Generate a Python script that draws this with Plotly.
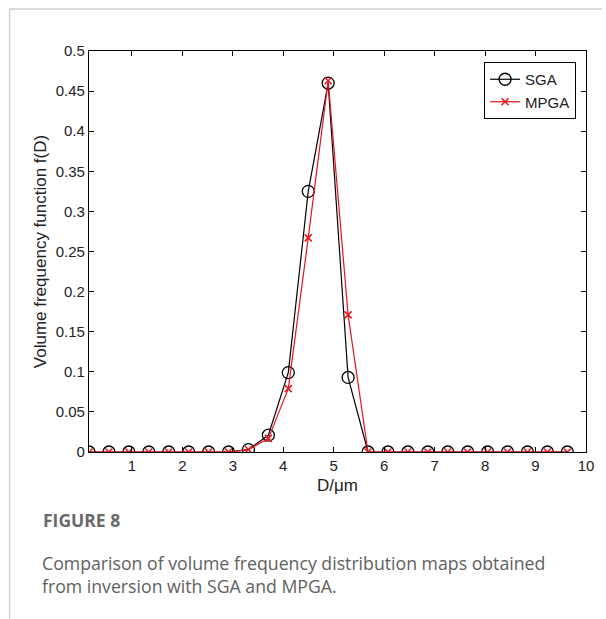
import plotly.graph_objects as go

# Particle diameter grid (µm)
diameters = [0.15, 0.545, 0.94, 1.335, 1.73, 2.125, 2.52, 2.915, 3.31, 3.705,
             4.10, 4.495, 4.89, 5.285, 5.68, 6.075, 6.47, 6.865, 7.26, 7.655,
             8.05, 8.445, 8.84, 9.235, 9.63]

# Volume frequency function f(D) from each inversion method
sga = [0, 0, 0, 0, 0, 0, 0, 0, 0.003, 0.021, 0.099, 0.325, 0.460, 0.093,
       0, 0, 0, 0, 0, 0, 0, 0, 0, 0, 0]
mpga = [0, 0, 0, 0, 0, 0, 0, 0, 0.003, 0.017, 0.079, 0.267, 0.463, 0.171,
        0, 0, 0, 0, 0, 0, 0, 0, 0, 0, 0]

x_ticks = [1, 2, 3, 4, 5, 6, 7, 8, 9, 10]
y_ticks = [0, 0.05, 0.1, 0.15, 0.2, 0.25, 0.3, 0.35, 0.4, 0.45, 0.5]
y_tick_text = ["0", "0.05", "0.1", "0.15", "0.2", "0.25", "0.3", "0.35", "0.4", "0.45", "0.5"]

W, H = 606, 619
L, R, T, B = 89, 590, 51, 452  # plot area in pixels
CHART_FONT = "Liberation Sans"


def px(x):
    return (x - L) / (R - L)


def py(y):
    return (B - y) / (B - T)


fig = go.Figure()
fig.add_trace(go.Scatter(
    x=diameters, y=sga, name="SGA", mode="lines+markers",
    line=dict(color="black", width=1.2),
    marker=dict(symbol="circle-open", size=12, color="black", line=dict(width=1.3)),
))
fig.add_trace(go.Scatter(
    x=diameters, y=mpga, name="MPGA", mode="lines+markers",
    line=dict(color="#e8141c", width=1.2),
    marker=dict(symbol="x-thin-open", size=7, color="#e8141c", line=dict(width=1.5, color="#e8141c")),
))

axis_common = dict(
    showline=True, linecolor="black", linewidth=1.2, mirror="ticks",
    ticks="inside", ticklen=5, tickwidth=1, tickcolor="black",
    showgrid=False, zeroline=False,
    tickfont=dict(family=CHART_FONT, size=15, color="#222"),
)

fig.update_xaxes(
    range=[0.15, 10], tickvals=x_ticks,
    title=dict(text="D/μm", font=dict(family=CHART_FONT, size=17, color="#222"), standoff=6),
    **axis_common,
)
fig.update_yaxes(
    range=[0, 0.5], tickvals=y_ticks, ticktext=y_tick_text,
    title=dict(text="Volume frequency function f(D)", font=dict(family=CHART_FONT, size=17, color="#222"), standoff=4),
    **axis_common,
)

# Card frame around the figure and its caption
frame = dict(type="line", xref="paper", yref="paper", line=dict(color="#cfcfcf", width=1.5))
shapes = [
    dict(frame, x0=px(9), y0=py(H), x1=px(9), y1=py(9)),
    dict(frame, x0=px(9), y0=py(9), x1=px(W), y1=py(9)),
]

cap_font = dict(family="Open Sans", size=17.7, color="#616161")
annotations = [
    dict(text="<b>FIGURE 8</b>", x=px(41), y=py(520), xref="paper", yref="paper",
         xanchor="left", yanchor="middle", showarrow=False,
         font=dict(family="Open Sans", size=17.5, color="#6a6a6a")),
    dict(text="Comparison of volume frequency distribution maps obtained", x=px(40), y=py(563),
         xref="paper", yref="paper", xanchor="left", yanchor="middle", showarrow=False, font=cap_font),
    dict(text="from inversion with SGA and MPGA.", x=px(40), y=py(586),
         xref="paper", yref="paper", xanchor="left", yanchor="middle", showarrow=False, font=cap_font),
]

fig.update_layout(
    width=W, height=H,
    margin=dict(l=L, r=W - R, t=T, b=H - B),
    paper_bgcolor="white", plot_bgcolor="white",
    shapes=shapes, annotations=annotations,
    legend=dict(
        x=px(580), y=py(62), xanchor="right", yanchor="top",
        bgcolor="white", bordercolor="black", borderwidth=1,
        font=dict(family=CHART_FONT, size=15, color="#222"),
        itemwidth=30, tracegroupgap=0,
    ),
)

fig.write_html("out.html")
